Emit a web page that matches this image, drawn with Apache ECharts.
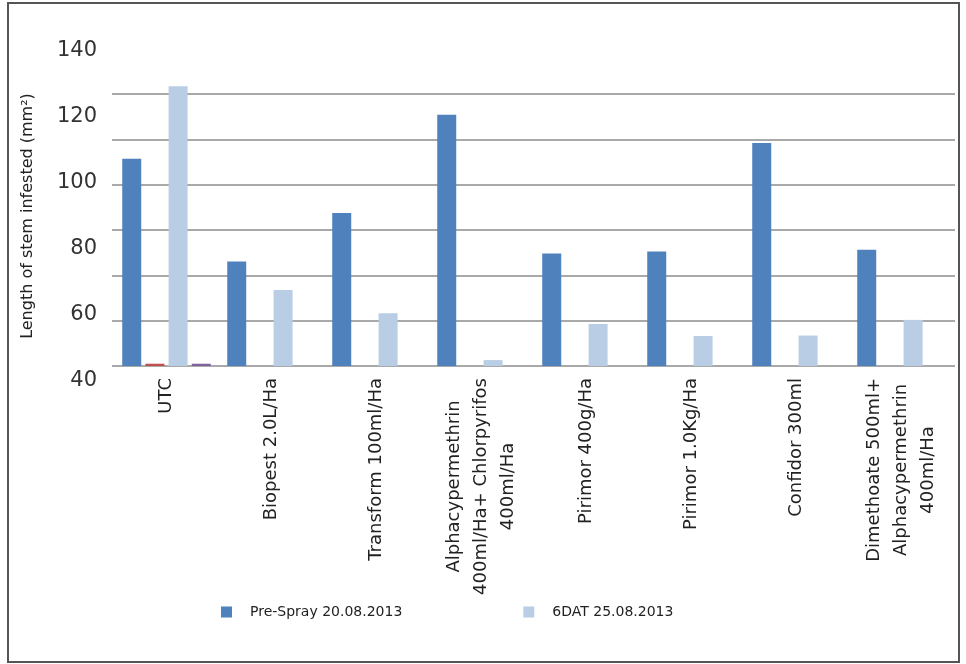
<!DOCTYPE html>
<html>
<head>
<meta charset="utf-8">
<script src="https://cdn.jsdelivr.net/npm/echarts@6/dist/echarts.min.js"></script>
<style>
html, body { margin: 0; padding: 0; background: #fff; }
#chart { width: 966px; height: 664px; }
</style>
</head>
<body>
<div id="chart"></div>
<script>
var categories = [
    'UTC',
    'Biopest 2.0L/Ha',
    'Transform 100ml/Ha',
    'Alphacypermethrin\n400ml/Ha+ Chlorpyrifos\n400ml/Ha',
    'Pirimor 400g/Ha',
    'Pirimor 1.0Kg/Ha',
    'Confidor 300ml',
    'Dimethoate 500ml+\nAlphacypermethrin\n400ml/Ha'
];
// values read against the gridlines (0 at the baseline, 20 per line)
var preSpray = [91.2, 46.0, 67.4, 110.6, 49.5, 50.4, 98.2, 51.2];
var dat6 = [123.2, 33.5, 23.2, 2.6, 18.5, 13.2, 13.4, 20.3];
var seriesRed = [1, null, null, null, null, null, null, null];
var seriesPurple = [1, null, null, null, null, null, null, null];
// tick labels as printed on the left axis
var yLabels = [40, 60, 80, 100, 120, 140];

var font = 'DejaVu Sans';

var chart = echarts.init(document.getElementById('chart'));

var option = {
    animation: false,
    backgroundColor: '#fff',
    grid: [
        {left: 114, right: 12, top: 48, bottom: 298},   // bars
        {left: 112, right: 11, top: 94, bottom: 298},   // gridlines
        {left: 98, right: 860, top: 51, bottom: 283}    // printed y labels
    ],
    legend: {
        data: ['Pre-Spray 20.08.2013', '6DAT 25.08.2013'],
        left: 216,
        top: 600,
        icon: 'rect',
        itemWidth: 11,
        itemHeight: 11,
        itemGap: 121,
        textStyle: {
            fontFamily: font,
            fontSize: 14,
            color: '#222',
            padding: [0, 0, 0, 13]
        }
    },
    xAxis: [{
        type: 'category',
        gridIndex: 0,
        data: categories,
        axisLine: {show: false},
        axisTick: {show: false},
        axisLabel: {
            interval: 0,
            rotate: 90,
            margin: 12,
            formatter: function (v) {
                return v.split('\n').map(function (s) {
                    return '{c|' + s + '}';
                }).join('\n');
            },
            rich: {
                c: {
                    align: 'center',
                    fontFamily: font,
                    fontSize: 18,
                    lineHeight: 27,
                    color: '#222'
                }
            }
        }
    }, {
        type: 'value',
        gridIndex: 1,
        show: false
    }, {
        type: 'value',
        gridIndex: 2,
        show: false
    }],
    yAxis: [{
        type: 'value',
        gridIndex: 0,
        min: 0,
        max: 140,
        interval: 20,
        show: false
    }, {
        type: 'value',
        gridIndex: 1,
        min: 0,
        max: 120,
        interval: 20,
        axisLine: {show: false},
        axisTick: {show: false},
        axisLabel: {show: false},
        splitLine: {
            show: true,
            lineStyle: {color: '#8c8c8c', width: 1.5}
        }
    }, {
        type: 'value',
        gridIndex: 2,
        min: yLabels[0],
        max: yLabels[yLabels.length - 1],
        interval: 20,
        axisLine: {show: false},
        axisTick: {show: false},
        splitLine: {show: false},
        axisLabel: {
            margin: 1,
            fontFamily: font,
            fontSize: 21,
            color: '#333'
        },
        name: 'Length of stem infested (mm²)',
        nameLocation: 'middle',
        nameRotate: 90,
        nameGap: 62,
        nameTextStyle: {
            fontFamily: font,
            fontSize: 16,
            color: '#222'
        }
    }],
    series: [{
        name: 'Pre-Spray 20.08.2013',
        type: 'bar',
        data: preSpray,
        barWidth: 19,
        barGap: '22%',
        itemStyle: {color: '#4f81bd'}
    }, {
        name: 'red',
        type: 'bar',
        data: seriesRed,
        barWidth: 19,
        barGap: '22%',
        itemStyle: {color: '#c0504d'}
    }, {
        name: '6DAT 25.08.2013',
        type: 'bar',
        data: dat6,
        barWidth: 19,
        barGap: '22%',
        itemStyle: {color: '#b9cde5'}
    }, {
        name: 'purple',
        type: 'bar',
        data: seriesPurple,
        barWidth: 19,
        barGap: '22%',
        itemStyle: {color: '#8064a2'}
    }],
    graphic: [{
        type: 'rect',
        shape: {x: 8, y: 3, width: 951, height: 659},
        style: {fill: 'none', stroke: '#555', lineWidth: 2},
        silent: true
    }]
};

chart.setOption(option);
</script>
</body>
</html>
